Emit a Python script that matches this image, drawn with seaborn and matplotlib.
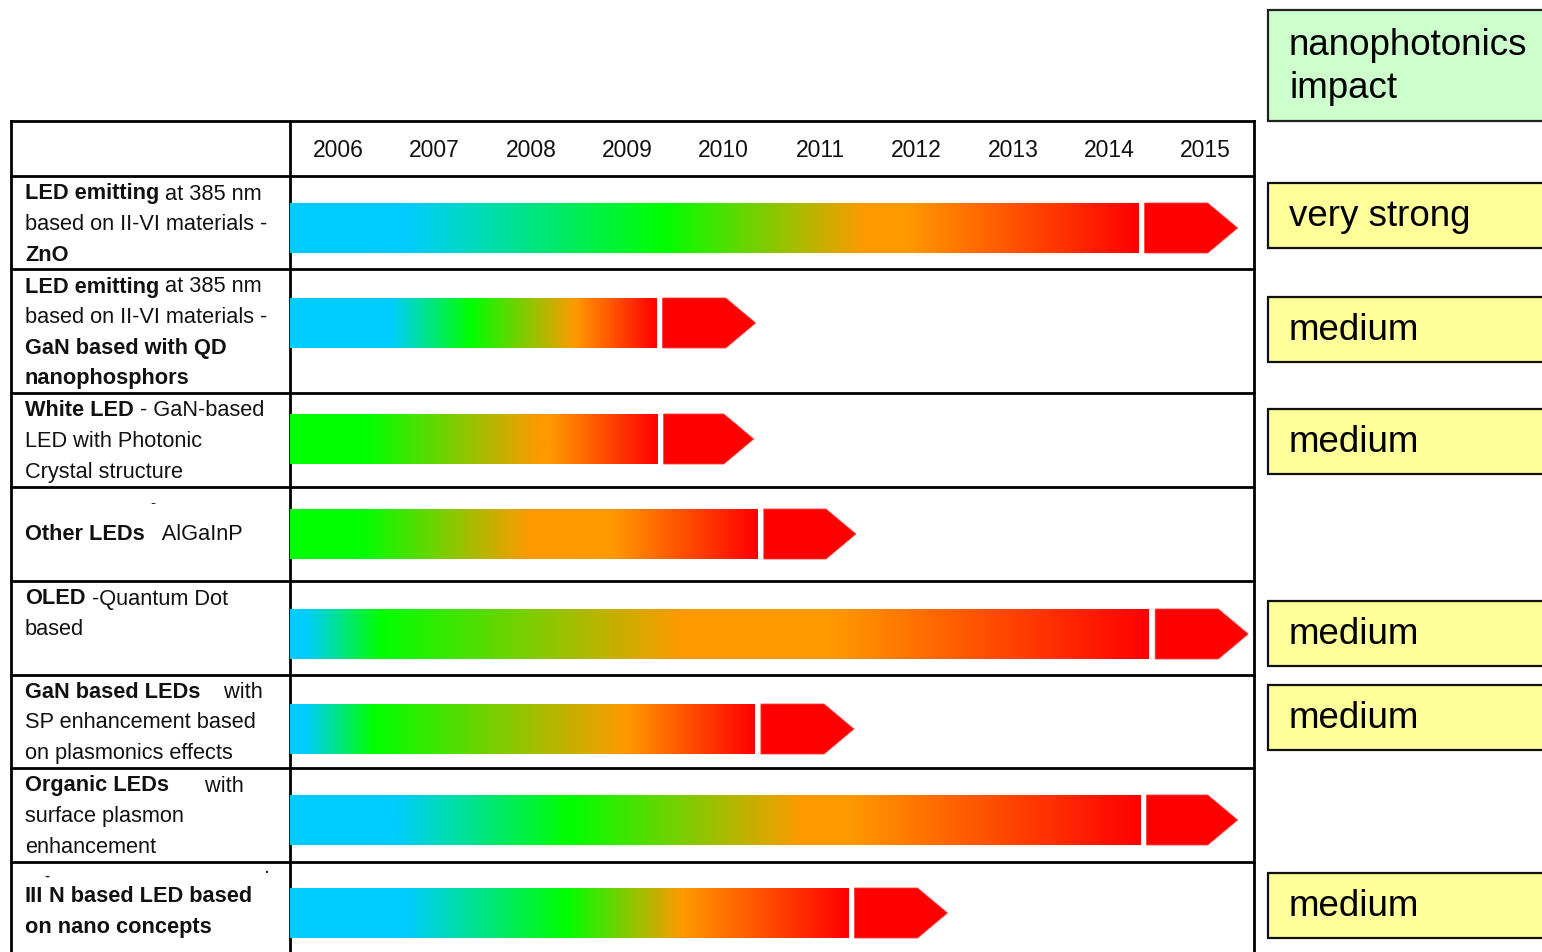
import numpy as np
import matplotlib
matplotlib.use("Agg")
import matplotlib.pyplot as plt
from matplotlib.patches import Polygon, Rectangle
import seaborn as sns

sns.set_theme(style="white")
plt.rcParams["font.family"] = ["Liberation Sans", "DejaVu Sans"]

# ---------------------------------------------------------------- data
years = [2006, 2007, 2008, 2009, 2010, 2011, 2012, 2013, 2014, 2015]

# each technology label is a list of lines, each line a list of (text, weight)
technologies = [
    [[("LED emitting", "bold"), (" at 385 nm", "normal")],
     [("based on II-VI materials -", "normal")],
     [("ZnO", "bold")]],
    [[("LED emitting", "bold"), (" at 385 nm", "normal")],
     [("based on II-VI materials -", "normal")],
     [("GaN based with QD", "bold")],
     [("nanophosphors", "bold")]],
    [[("White LED", "bold"), (" - GaN-based", "normal")],
     [("LED with Photonic", "normal")],
     [("Crystal structure", "normal")]],
    [[("Other LEDs", "bold"), ("   AlGaInP", "normal")]],
    [[("OLED", "bold"), (" -Quantum Dot", "normal")],
     [("based", "normal")]],
    [[("GaN based LEDs", "bold"), ("    with", "normal")],
     [("SP enhancement based", "normal")],
     [("on plasmonics effects", "normal")]],
    [[("Organic LEDs", "bold"), ("      with", "normal")],
     [("surface plasmon", "normal")],
     [("enhancement", "normal")]],
    [[("III", "bold"), (" N based LED based", "bold")],
     [("on nano concepts", "bold")]],
]

# gradient phases of each roadmap bar (year where each colour is reached)
phase_years = [
    [2006.0, 2007.20, 2009.88, 2011.97, 2012.40, 2014.80],
    [2006.0, 2007.04, 2007.87, 2008.96, 2009.80],
    [2006.0, 2006.81, 2008.60, 2008.70, 2009.81],
    [2006.0, 2006.75, 2008.49, 2009.35, 2010.85],
    [2006.0, 2006.16, 2006.94, 2010.07, 2011.64, 2014.91],
    [2006.0, 2006.16, 2006.87, 2009.49, 2010.82],
    [2006.0, 2007.07, 2008.90, 2011.32, 2011.80, 2014.82],
    [2006.0, 2007.20, 2008.87, 2010.07, 2011.79],
]
phase_colors = [
    ["cyan", "cyan", "green", "orange", "orange", "red"],
    ["cyan", "cyan", "green", "orange", "red"],
    ["green", "green", "orange", "orange", "red"],
    ["green", "green", "orange", "orange", "red"],
    ["cyan", "cyan", "green", "orange", "orange", "red"],
    ["cyan", "cyan", "green", "orange", "red"],
    ["cyan", "cyan", "green", "orange", "orange", "red"],
    ["cyan", "cyan", "green", "orange", "red"],
]
# end of the arrow that follows each bar
arrow_end = [2015.83, 2010.83, 2010.81, 2011.87, 2015.94, 2011.85, 2015.83, 2012.82]

impact_header = "nanophotonics\nimpact"
impact = ["very strong", "medium", "medium", None, "medium", "medium", None, "medium"]

# ---------------------------------------------------------------- style / layout
W, H = 1542, 952
stage_palette = dict(zip(["cyan", "green", "orange", "red"],
                         sns.color_palette(["#00CCFF", "#00FF00", "#FF9900", "#FF0000"])))
LABEL_FONT = ["Liberation Sans", "DejaVu Sans"]
BOX_FONT = ["Liberation Sans", "DejaVu Sans"]
LABEL_SIZE = 15.7
TEXT_COLOR = "#111111"
LINE_W = 2.0

table_left, col_split, table_right = 11, 290, 1254
header_top = 121
row_edges = [176, 269, 393, 487, 581, 675, 768, 862, 952]
bar_centers = [228, 323, 439, 534, 634, 729, 820, 913]
bar_height = 50
label_x = 25
line_step = 30.6
label_first_line = [194, 287, 411, 535, 599, 692, 786, 897]
box_left, box_height = 1268, 65
box_centers = [215.5, 329.5, 441.5, None, 633.5, 717.5, None, 905.5]

fig = plt.figure(figsize=(W / 100, H / 100), dpi=100)
fig.patch.set_facecolor("white")

# background axes in pixel units: table grid, labels, impact boxes
bg = fig.add_axes([0, 0, 1, 1])
bg.set_xlim(0, W)
bg.set_ylim(H, 0)
bg.axis("off")

# roadmap axes: x in years, y in pixel rows
ax = fig.add_axes([col_split / W, 0, (table_right - col_split) / W, (H - header_top) / H])
ax.set_facecolor("none")

# table grid
for y in [header_top] + row_edges[:-1]:
    bg.plot([table_left, table_right], [y, y], color="black", lw=LINE_W,
            solid_capstyle="projecting", zorder=3)
for x in [table_left, col_split, table_right]:
    bg.plot([x, x], [header_top, H + 5], color="black", lw=LINE_W,
            solid_capstyle="projecting", zorder=3)

# year header
for yr in years:
    ax.text(yr + 0.5, 151, str(yr), ha="center", va="center", fontsize=16.5,
            family=LABEL_FONT, color=TEXT_COLOR)


def draw_line(x, y, segments, size=LABEL_SIZE):
    prev = None
    for text, weight in segments:
        if prev is None:
            prev = bg.text(x, y, text, ha="left", va="center", fontsize=size,
                           fontweight=weight, family=LABEL_FONT, color=TEXT_COLOR)
        else:
            prev = bg.annotate(text, xy=(1, 0), xycoords=prev, ha="left", va="bottom",
                               fontsize=size, fontweight=weight, family=LABEL_FONT,
                               color=TEXT_COLOR)


for i, lines in enumerate(technologies):
    for j, segs in enumerate(lines):
        draw_line(label_x, label_first_line[i] + j * line_step, segs)

# small stray marks inside the labels
bg.text(153, 503, "-", ha="center", va="center", fontsize=11, family=LABEL_FONT)
bg.text(47, 876, "-", ha="center", va="center", fontsize=11, fontweight="bold", family=LABEL_FONT)
bg.text(267, 869, ".", ha="center", va="center", fontsize=10, fontweight="bold", family=LABEL_FONT)

# gradient bars and arrows
gap, head = 0.065, 0.31
for i in range(len(phase_years)):
    stops = phase_years[i]
    cols = np.array([stage_palette[c] for c in phase_colors[i]])
    end = stops[-1]
    xs = np.linspace(stops[0], end, 800)
    rgb = np.stack([np.interp(xs, stops, cols[:, k]) for k in range(3)], axis=-1)[None, :, :]
    yc = bar_centers[i]
    ax.imshow(rgb, extent=(stops[0], end, yc + bar_height / 2, yc - bar_height / 2),
              aspect="auto", interpolation="bilinear", zorder=2)
    s = end + gap
    tip = arrow_end[i]
    pts = [(s, yc - bar_height / 2), (tip - head, yc - bar_height / 2), (tip, yc),
           (tip - head, yc + bar_height / 2), (s, yc + bar_height / 2)]
    ax.add_patch(Polygon(pts, closed=True, fc=stage_palette["red"], ec="#FF4040",
                         lw=0.6, zorder=2))

ax.set_xlim(2006, 2016)
ax.set_ylim(H, header_top)
ax.axis("off")

# impact column
bg.add_patch(Rectangle((box_left, 10), 320, 111, fc="#CCFFCC", ec="#222222", lw=1.6, zorder=2))
bg.text(1289, 67, impact_header, ha="left", va="center", fontsize=26.5,
        family=BOX_FONT, color="black", linespacing=1.27, zorder=3)
for lvl, yc in zip(impact, box_centers):
    if lvl is None:
        continue
    bg.add_patch(Rectangle((box_left, yc - box_height / 2), 320, box_height,
                           fc="#FFFF99", ec="#111111", lw=1.6, zorder=2))
    bg.text(1289, yc + 1, lvl, ha="left", va="center", fontsize=26.5,
            family=BOX_FONT, color="black", zorder=3)

fig.savefig("out.png", dpi=100, facecolor="white")
